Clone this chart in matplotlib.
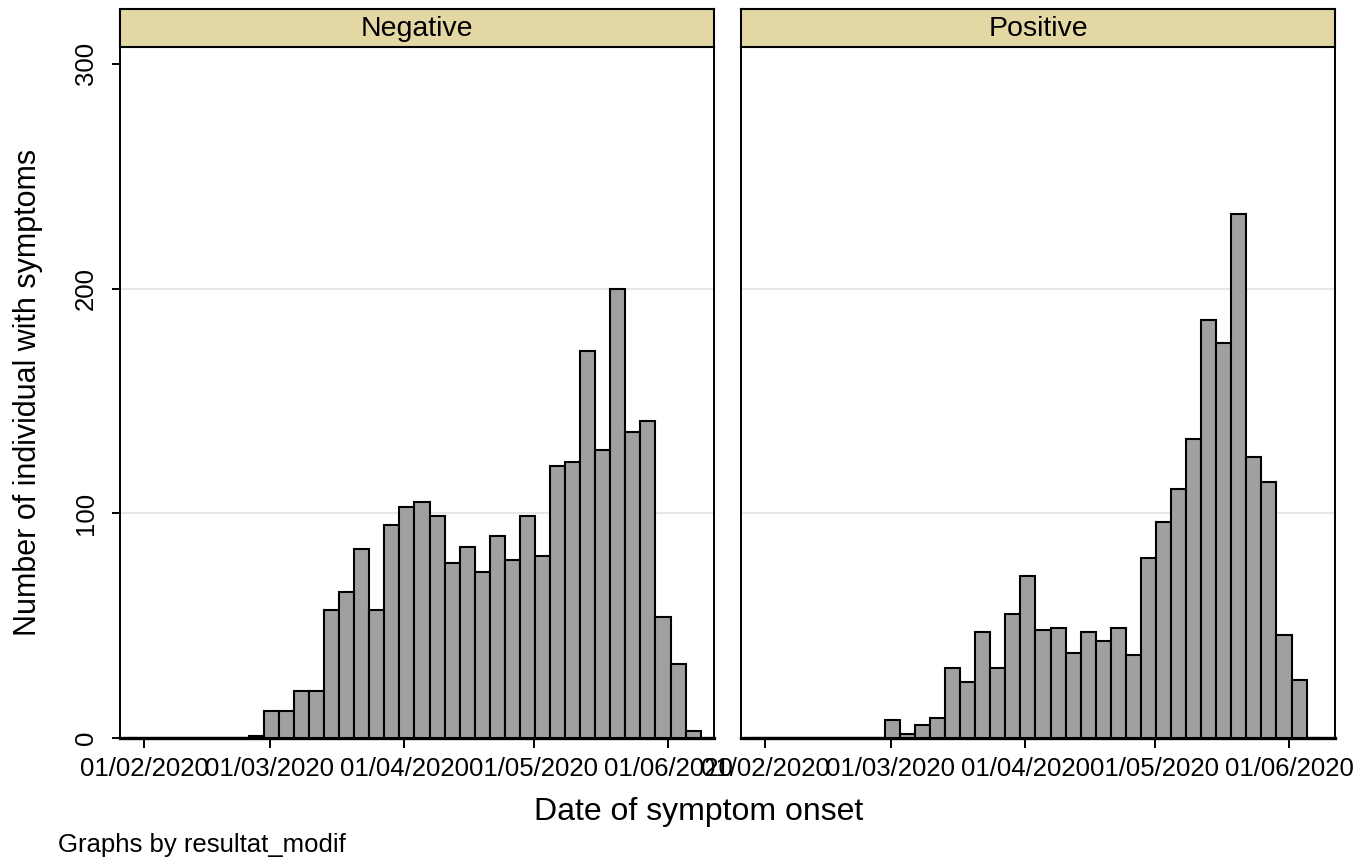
import matplotlib
matplotlib.use("Agg")
import matplotlib.pyplot as plt
import matplotlib.dates as mdates
from datetime import datetime

# ---------------- data ----------------
panels = ["Negative", "Positive"]
bin_start = datetime(2020, 1, 28, 8)   # first histogram bin edge
bin_width_days = 3.478
neg_counts = [0, 0, 0, 0, 0, 0, 0, 0,
              1, 12, 12, 21, 21, 57, 65, 84, 57, 95, 103, 105, 99, 78, 85, 74,
              90, 79, 99, 81, 121, 123, 172, 128, 200, 136, 141, 54, 33, 3]
pos_counts = [0, 0, 0, 0, 0, 0, 0, 0, 0,
              8, 2, 6, 9, 31, 25, 47, 31, 55, 72, 48, 49, 38, 47, 43, 49, 37,
              80, 96, 111, 133, 186, 176, 233, 125, 114, 46, 26, 0]
tick_dates = ["2020-02-01", "2020-03-01", "2020-04-01", "2020-05-01", "2020-06-01"]
y_ticks = [0, 100, 200, 300]
x_min_date = datetime(2020, 1, 26, 10)
x_max_date = datetime(2020, 6, 11, 14)

# ---------------- style ----------------
plt.rcParams['font.family'] = ['Liberation Sans', 'DejaVu Sans']
W, H = 1362, 861
fig = plt.figure(figsize=(W / 100, H / 100), dpi=100)

bar_face = '#A0A0A0'
strip_face = '#E3D8A4'
grid_col = '#E4E4E4'

def fx(px):
    return px / W

def fy(py):
    return 1 - py / H

ax_top, ax_bot = 47, 738
strip_top = 9
lefts = [120, 741]
width_px = 594

start_num = mdates.date2num(bin_start)
n_bins = len(neg_counts)
edges = [start_num + i * bin_width_days for i in range(n_bins)]
tick_nums = [mdates.date2num(datetime.strptime(d, "%Y-%m-%d")) for d in tick_dates]
tick_labels = [datetime.strptime(d, "%Y-%m-%d").strftime("%d/%m/%Y") for d in tick_dates]

for k, (name, counts) in enumerate(zip(panels, [neg_counts, pos_counts])):
    l = lefts[k]
    ax = fig.add_axes([fx(l), fy(ax_bot), width_px / W, (ax_bot - ax_top) / H])
    ax.bar(edges, counts, width=bin_width_days, align='edge',
           color=bar_face, edgecolor='black', linewidth=1.5, zorder=3)
    ax.set_xlim(mdates.date2num(x_min_date), mdates.date2num(x_max_date))
    ax.set_ylim(0, 307.5)
    for g in [100, 200]:
        ax.axhline(g, color=grid_col, lw=1.3, zorder=1)
    ax.set_yticks(y_ticks)
    ax.set_xticks(tick_nums)
    ax.set_xticklabels(tick_labels, fontsize=18.5)
    ax.tick_params(axis='x', length=7, width=1.4, pad=7, direction='out')
    if k == 0:
        ax.set_yticklabels([str(v) for v in y_ticks], fontsize=18.5, rotation=90,
                           va='center')
        ax.tick_params(axis='y', length=6, width=1.4, pad=10, direction='out')
    else:
        ax.tick_params(axis='y', length=0, labelleft=False)
    for s in ['left', 'right', 'top']:
        ax.spines[s].set_linewidth(1.4)
    ax.spines['bottom'].set_linewidth(2.4)
    ax.set_facecolor('white')

    # strip
    sax = fig.add_axes([fx(l), fy(ax_top), width_px / W, (ax_top - strip_top) / H])
    sax.set_facecolor(strip_face)
    sax.set_xticks([])
    sax.set_yticks([])
    for s in sax.spines.values():
        s.set_linewidth(1.5)
    sax.text(0.5, 0.47, name, ha='center', va='center', fontsize=20.5,
             transform=sax.transAxes)

fig.text(fx(28), fy(392), "Number of individual with symptoms", rotation=90,
         ha='center', va='center', fontsize=22)
fig.text(fx(699), fy(812), "Date of symptom onset", ha='center', va='center',
         fontsize=23)
fig.text(fx(58), fy(845), "Graphs by resultat_modif", ha='left', va='center',
         fontsize=18.5)

fig.savefig("out.png", dpi=100, facecolor='white')
